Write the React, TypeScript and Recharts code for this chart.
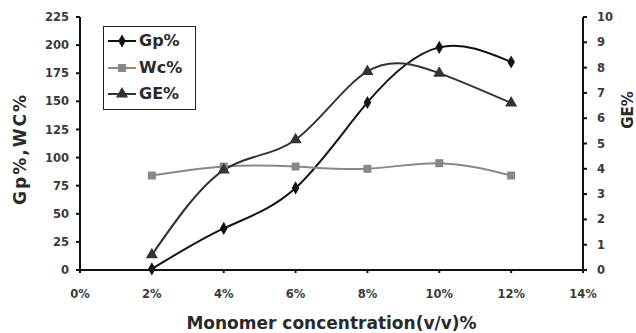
import {
  Label,
  Line,
  LineChart,
  Symbols,
  XAxis,
  YAxis,
} from 'recharts';

const concentration = [2, 4, 6, 8, 10, 12];
const gpValues = [1, 37, 73, 149, 198, 185];
const wcValues = [84, 92, 92, 90, 95, 84];
const geValues = [0.6, 3.95, 5.15, 7.85, 7.78, 6.6];

const xTicks = [0, 2, 4, 6, 8, 10, 12, 14];
const leftTicks = [0, 25, 50, 75, 100, 125, 150, 175, 200, 225];
const rightTicks = [0, 1, 2, 3, 4, 5, 6, 7, 8, 9, 10];

const data = concentration.map((c, i) => ({
  c,
  gp: gpValues[i],
  wc: wcValues[i],
  ge: geValues[i],
}));

const font = '"DejaVu Sans", Verdana, sans-serif';
const tickStyle = { fontSize: 11.5, fontWeight: 700, fill: '#3a3a3a', fontFamily: font };
const titleStyle = { fontSize: 17, fontWeight: 700, fill: '#2a2a2a', fontFamily: font };

const series = [
  { key: 'gp', name: 'Gp%', color: '#111', marker: 'diamond' as const, size: 50, axis: 'left' },
  { key: 'wc', name: 'Wc%', color: '#888', marker: 'square' as const, size: 64, axis: 'left' },
  { key: 'ge', name: 'GE%', color: '#333', marker: 'triangle' as const, size: 64, axis: 'right' },
];

function makeDot(type: 'diamond' | 'square' | 'triangle', size: number, color: string) {
  return (props: any) => (
    <Symbols
      key={props.index}
      cx={props.cx}
      cy={props.cy}
      type={type}
      size={size}
      fill={color}
      stroke="none"
    />
  );
}

function LegendBox() {
  return (
    <div
      style={{
        position: 'absolute',
        left: 103,
        top: 26,
        border: '1.5px solid #222',
        background: '#fff',
        width: 88,
        padding: '1px 0 1px 3px',
        fontFamily: font,
        fontWeight: 700,
        fontSize: 16,
        color: '#2a2a2a',
        lineHeight: 1,
      }}
    >
      {series.map((s) => (
        <div key={s.key} style={{ display: 'flex', alignItems: 'center', height: 26.5 }}>
          <svg width={30} height={16} style={{ flex: 'none' }}>
            <line x1={1} y1={8} x2={29} y2={8} stroke={s.color} strokeWidth={2} />
            <Symbols cx={15} cy={8} type={s.marker} size={s.size} fill={s.color} />
          </svg>
          <span style={{ marginLeft: 2 }}>{s.name}</span>
        </div>
      ))}
    </div>
  );
}

export default function App() {
  return (
    <div style={{ position: 'fixed', left: 0, top: 0, background: '#fff', width: 636, height: 333 }}>
      <LineChart width={636} height={333} data={data} margin={{ top: 17, right: 0, left: 0, bottom: 0 }}>
        <XAxis
          dataKey="c"
          type="number"
          domain={[0, 14]}
          ticks={xTicks}
          tickFormatter={(v) => `${v}%`}
          tick={tickStyle}
          tickSize={3}
          tickMargin={17}
          height={63}
          stroke="#111"
          strokeWidth={2}
        >
          <Label value="Monomer concentration(v/v)%" position="insideBottom" offset={4} style={titleStyle} />
        </XAxis>
        <YAxis
          yAxisId="left"
          domain={[0, 225]}
          ticks={leftTicks}
          tick={tickStyle}
          tickSize={4}
          tickMargin={7}
          width={80}
          stroke="#111"
          strokeWidth={2}
        >
          <Label
            content={() => (
              <text
                x={20}
                y={149}
                transform="rotate(-90 20 149)"
                textAnchor="middle"
                dominantBaseline="central"
                style={{ ...titleStyle, letterSpacing: 2 }}
              >
                Gp%,WC%
              </text>
            )}
          />
        </YAxis>
        <YAxis
          yAxisId="right"
          orientation="right"
          domain={[0, 10]}
          ticks={rightTicks}
          tick={{ ...tickStyle, textAnchor: 'start' }}
          tickSize={4}
          tickMargin={10}
          width={53}
          stroke="#111"
          strokeWidth={2}
        >
          <Label
            content={() => (
              <text
                x={628}
                y={110}
                transform="rotate(-90 628 110)"
                textAnchor="middle"
                dominantBaseline="central"
                style={{ ...titleStyle, fontSize: 15 }}
              >
                GE%
              </text>
            )}
          />
        </YAxis>
        {series.map((s) => (
          <Line
            key={s.key}
            yAxisId={s.axis}
            dataKey={s.key}
            name={s.name}
            type="natural"
            stroke={s.color}
            strokeWidth={2}
            dot={makeDot(s.marker, s.size, s.color)}
            activeDot={false}
            isAnimationActive={false}
          />
        ))}
      </LineChart>
      <LegendBox />
    </div>
  );
}
